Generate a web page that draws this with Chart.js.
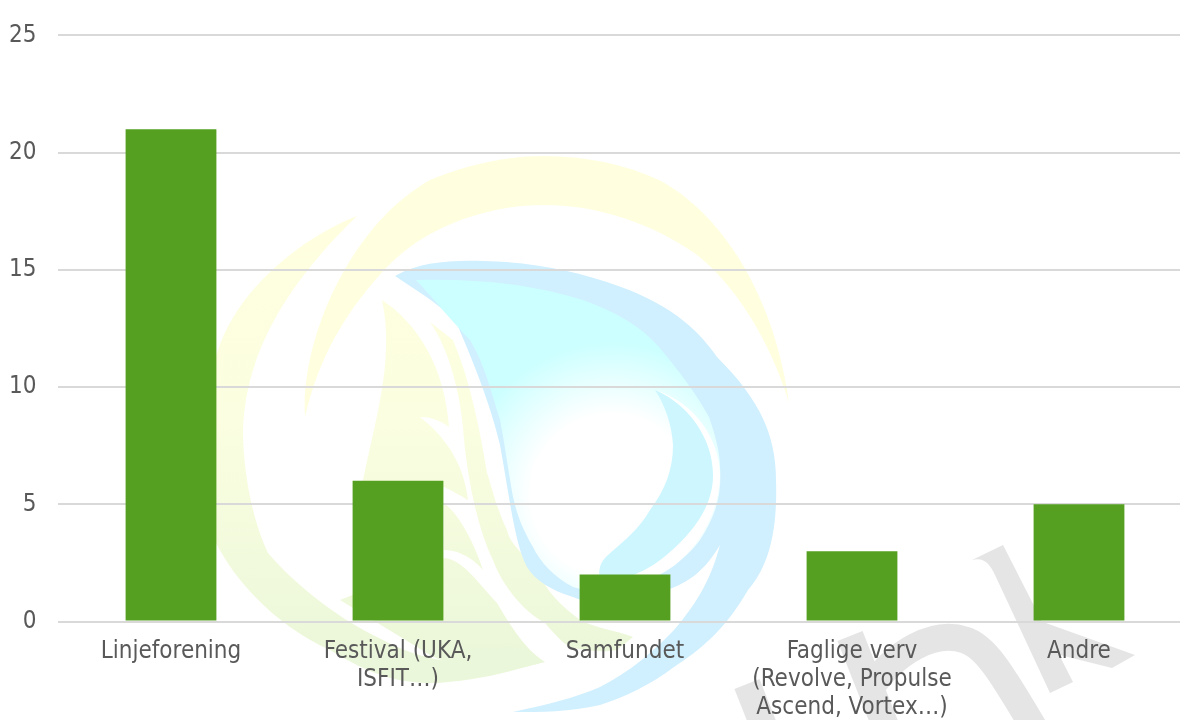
<!DOCTYPE html>
<html><head><meta charset="utf-8">
<style>
html,body{margin:0;padding:0;width:1180px;height:720px;overflow:hidden;background:#fff}
#wrap{position:relative;width:1180px;height:720px;overflow:hidden}
svg{position:absolute;left:0;top:0}
#cv{position:absolute;left:0;top:0}
</style>
<script src="https://cdn.jsdelivr.net/npm/chart.js@4/dist/chart.umd.min.js"></script>
</head><body>
<div id="wrap">
<svg width="1180" height="720" viewBox="0 0 1180 720" aria-hidden="true">
<defs>
<linearGradient id="gy" x1="0" y1="230" x2="0" y2="660" gradientUnits="userSpaceOnUse">
<stop offset="0" stop-color="#ffffe0"/><stop offset="0.45" stop-color="#fbfee0"/><stop offset="1" stop-color="#ebf7da"/>
</linearGradient>
<radialGradient id="gc" cx="612" cy="495" r="180" gradientUnits="userSpaceOnUse">
<stop offset="0" stop-color="#ffffff"/><stop offset="0.45" stop-color="#ffffff"/><stop offset="0.85" stop-color="#ccffff"/><stop offset="1" stop-color="#ccffff"/>
</radialGradient>
</defs>
<!-- grey watermark -->
<g fill="none" stroke="#e5e5e5" stroke-width="27">
<path d="M747 684 L777 760"/>
<path d="M850 636 L895 750"/>
<path d="M868 692 C 895 650,935 630,965 640 C 985 646,1000 670,1040 738"/>
</g>
<path fill="#e5e5e5" d="M972 560 C 985 557,990 565,995 575 L 1050 693 L 1073 682 L 1003 545 Z"/>
<path fill="#e5e5e5" d="M1030 628 L1043 622 L1135 655 L1112 668 L1040 650 Z"/>
<!-- yellow top arc -->
<path fill="#ffffe0" d="M305 417 C 300 340,350 225,430 180 C 465 165,505 156,544 156 C 585 156,625 164,659 180 C 725 215,775 300,789 403 C 770 340,735 285,697 255 C 655 225,600 205,544 205 C 490 205,430 225,391 263 C 345 310,318 360,305 417 Z"/>
<!-- left swoosh -->
<path fill="url(#gy)" d="M357 216 C 315 232,240 280,217 353 C 195 420,190 490,216 543 C 240 590,285 630,330 650 C 370 675,400 683,430 683 C 470 682,510 672,543 662 C 520 665,500 666,478 665 C 440 662,410 655,383 640 C 340 620,295 585,268 553 C 252 520,243 470,243 430 C 245 370,270 300,357 216 Z"/>
<!-- leaf -->
<path fill="url(#gy)" d="M382 300 C 420 325,445 370,449 427 C 440 420,430 417,420 417 C 450 440,465 470,468 500 C 460 495,450 490,444 487 L 361 490 C 375 420,395 360,382 300 Z"/>
<path fill="url(#gy)" d="M444 503 C 460 515,475 545,483 570 C 470 555,455 550,444 550 Z"/>
<path fill="url(#gy)" d="M445 558 C 463 560,480 585,497 603 C 510 625,525 650,545 662 C 510 672,460 672,430 655 L 340 600 Z"/>
<path fill="url(#gy)" d="M430 322 C 450 350,462 400,464 440 C 468 480,478 530,493 560 C 500 580,520 610,545 623 C 555 635,565 645,570 647 C 590 652,605 652,617 650 L 633 637 C 615 630,595 628,580 620 C 560 605,545 590,540 573 C 525 555,510 545,507 530 C 495 505,490 480,487 473 C 480 430,470 380,453 340 Z"/>
<!-- blue silhouette -->
<path fill="#d0efff" d="M395 276 C 420 262,450 260,483 261 C 530 262,575 270,621 287 C 665 303,695 325,717 357 C 755 395,776 430,776 480 C 778 540,765 570,748 590 C 725 630,700 650,674 667 C 650 685,625 697,600 705 C 570 712,540 712,513 712 C 545 705,575 698,600 687 C 630 672,655 650,674 630 C 700 600,712 575,720 545 C 705 570,690 582,667 590 C 640 603,605 610,573 597 C 550 590,535 580,527 567 C 515 545,510 500,500 445 C 492 410,475 365,456 322 C 435 300,415 290,395 276 Z"/>
<!-- drop interior -->
<path fill="url(#gc)" d="M416 280 C 480 278,535 285,583 300 C 615 312,640 325,659 347 C 680 372,697 395,709 417 C 717 440,720 455,720 467 C 722 495,716 515,700 540 C 685 560,660 578,640 583 C 610 595,590 592,573 587 C 555 578,540 562,533 547 C 520 525,516 510,513 497 C 508 470,505 445,500 420 C 492 395,485 365,470 340 C 455 325,435 300,416 280 Z"/>
<!-- white ring and cyan crescent -->
<path fill="#ffffff" d="M655 390 C 695 402,720 440,720 475 C 720 510,700 545,675 565 C 650 582,620 590,590 585 C 625 582,650 570,670 552 C 695 530,713 505,713 475 C 713 440,690 405,655 390 Z"/>
<path fill="#cdf6ff" d="M655 390 C 690 405,713 440,713 475 C 713 505,695 530,670 552 C 650 570,625 582,600 580 C 598 570,600 562,608 555 C 625 540,640 528,650 510 C 665 490,673 470,673 445 C 672 425,665 405,655 390 Z"/>
<!-- highlights -->
<path fill="#ffffff" fill-opacity="0.9" d="M532 481 C 530 470,534 458,541 455 C 541 465,540 475,532 481 Z"/>
<path fill="#ffffff" fill-opacity="0.9" d="M547 444 C 551 448,554 458,555 463 C 550 468,545 470,544 465 C 543 455,544 448,547 444 Z"/>
</svg>
<canvas id="cv" width="1200" height="720" style="width:1200px;height:720px"></canvas>
</div>
<script>
const categories = ["Linjeforening", ["Festival (UKA,", "ISFIT…)"], "Samfundet", ["Faglige verv", "(Revolve, Propulse", "Ascend, Vortex…)"], "Andre"];
const seriesValues = [21, 6, 2, 3, 5];
const yTicks = [0, 5, 10, 15, 20, 25];

Chart.defaults.font.family = '"DejaVu Sans Condensed", "DejaVu Sans", sans-serif';
Chart.defaults.color = '#595959';

new Chart(document.getElementById('cv'), {
  type: 'bar',
  data: {
    labels: categories,
    datasets: [{ data: seriesValues, backgroundColor: '#55a021', barPercentage: 0.4, categoryPercentage: 1 }]
  },
  options: {
    responsive: false,
    animation: false,
    layout: { padding: { top: 22, right: 7.5, left: 0, bottom: 0 } },
    plugins: { legend: { display: false }, tooltip: { enabled: false }, title: { display: false } },
    scales: {
      x: {
        grid: { display: false, drawTicks: false },
        border: { display: false },
        afterFit(s) { s.height = 98.5; },
        ticks: { autoSkip: false, maxRotation: 0, minRotation: 0, padding: 16, font: { size: 24, lineHeight: 1.17 }, color: '#595959' }
      },
      y: {
        min: 0, max: 25,
        afterFit(s) { s.width = 57.5; },
        afterBuildTicks(s) { s.ticks = yTicks.map(v => ({ value: v })); },
        grid: { color: '#d9d9d9', lineWidth: 2, drawTicks: false },
        border: { display: false },
        ticks: { padding: 21, font: { size: 24 }, color: '#595959' }
      }
    }
  }
});
</script>
</body></html>
